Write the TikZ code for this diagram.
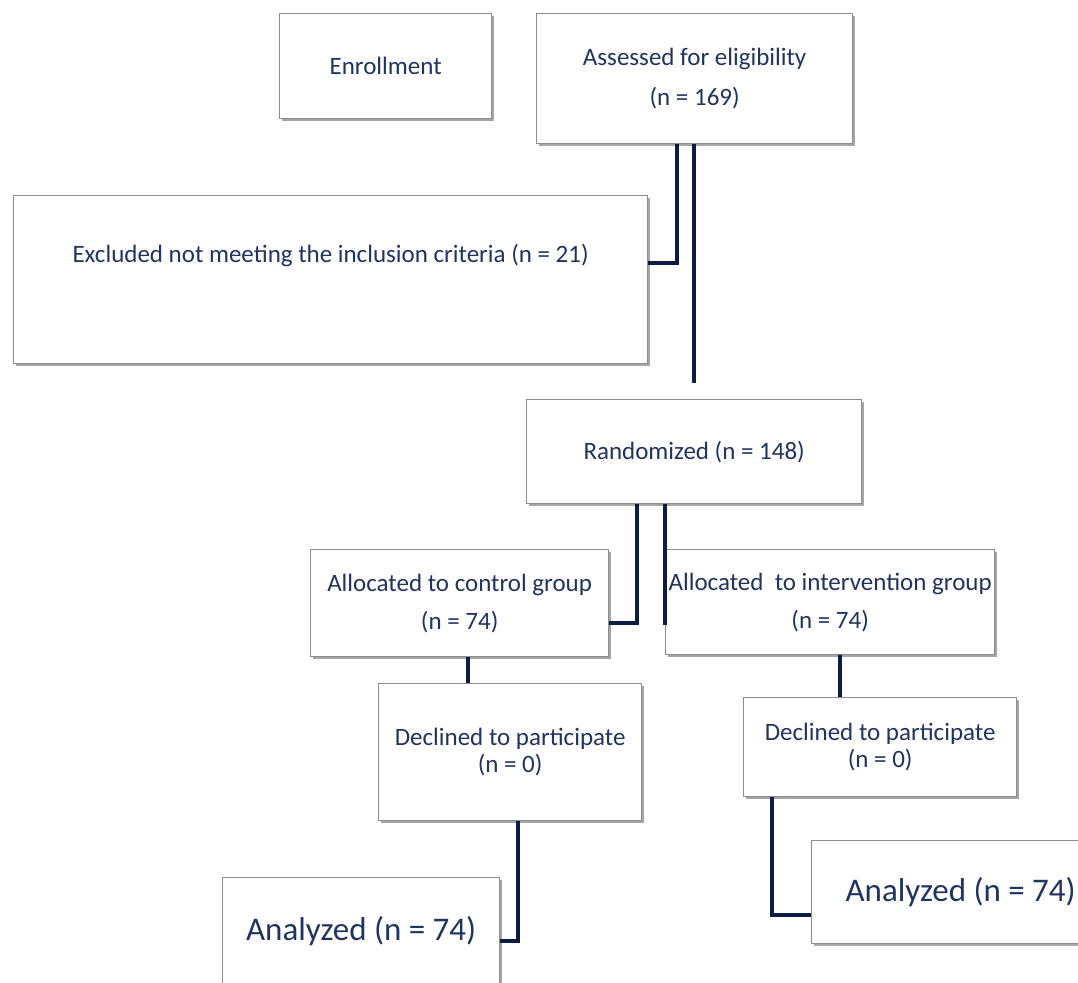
\documentclass[tikz,border=0pt]{standalone}
\usepackage{fontspec}
\setmainfont{Carlito}
\usetikzlibrary{shadows}
\definecolor{txtnavy}{RGB}{31,52,96}
\definecolor{linenavy}{RGB}{12,28,68}
\definecolor{boxgray}{RGB}{140,140,140}
\tikzset{
  fbox/.style={draw=boxgray, line width=1.3pt, fill=white, anchor=north west,
    inner sep=0pt, align=center, text=txtnavy,
    font=\fontsize{25}{30}\selectfont,
    drop shadow={shadow xshift=2.5pt, shadow yshift=-2.5pt, fill=black, opacity=0.35}},
  bigtxt/.style={font=\fontsize{33}{40}\selectfont},
  conn/.style={draw=linenavy, line width=4pt, line join=miter}
}
\begin{document}
\begin{tikzpicture}[x=1pt,y=-1pt]
\useasboundingbox (0,0) rectangle (1078,982);
\clip (0,0) rectangle (1078,982);
\fill[white] (0,0) rectangle (1078,982);
% boxes
\node[fbox, minimum width=212pt, minimum height=105pt] (enroll) at (279,13) {Enrollment};
\node[fbox, minimum width=316pt, minimum height=130pt] (assess) at (536,13) {Assessed for eligibility\\[10pt](n = 169)};
\node[fbox, minimum width=634pt, text height=67pt, text depth=101pt] (excl) at (13,195) {Excluded not meeting the inclusion criteria (n = 21)};
\node[fbox, minimum width=335pt, minimum height=104pt] (rand) at (526,399) {Randomized (n = 148)};
\node[fbox, minimum width=298pt, minimum height=107pt] (ctrl) at (310,549) {Allocated to control group\\[8pt](n = 74)};
\node[fbox, minimum width=329pt, minimum height=105pt] (intv) at (665,549) {Allocated~ to intervention group\\[8pt](n = 74)};
\node[fbox, minimum width=263pt, minimum height=137pt] (decl1) at (378,683) {Declined to participate\\[-3pt](n = 0)};
\node[fbox, minimum width=273pt, minimum height=99pt] (decl2) at (743,697) {Declined to participate\\[-3pt](n = 0)};
\node[fbox, bigtxt, minimum width=277pt, minimum height=106pt] (an1) at (222,877) {Analyzed (n = 74)};
\node[fbox, bigtxt, minimum width=298pt, minimum height=103pt] (an2) at (811,840) {Analyzed (n = 74)};
% connectors
\draw[conn] ([xshift=-18pt]assess.south) |- ([yshift=17pt]excl.east);
\draw[conn] (assess.south -| rand.north) -- ([yshift=16pt]rand.north);
\draw[conn] ([xshift=-57.5pt]rand.south) |- ([yshift=-20pt]ctrl.east);
\draw[conn] (rand.south -| intv.west) -- ([yshift=-23pt]intv.west);
\draw[conn] ([xshift=8pt]ctrl.south) -- ([xshift=8pt]ctrl.south |- decl1.north);
\draw[conn] ([xshift=9.5pt]intv.south) -- ([xshift=9.5pt]intv.south |- decl2.north);
\draw[conn] ([xshift=7.5pt]decl1.south) |- ([yshift=-10pt]an1.east);
\draw[conn] ([xshift=-108.5pt]decl2.south) |- ([yshift=-22.5pt]an2.west);
\end{tikzpicture}
\end{document}
